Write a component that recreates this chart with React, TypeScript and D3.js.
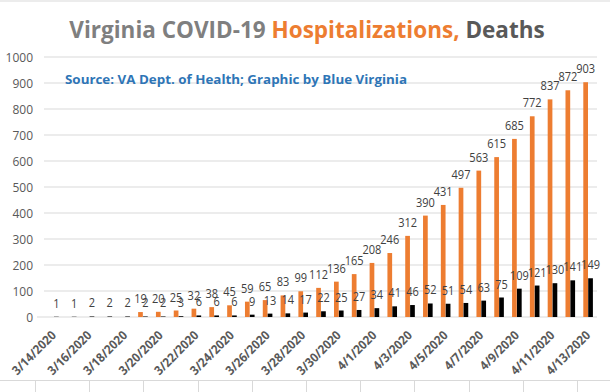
import * as d3 from "d3";

const dates = [
  "3/14/2020", "3/15/2020", "3/16/2020", "3/17/2020", "3/18/2020", "3/19/2020",
  "3/20/2020", "3/21/2020", "3/22/2020", "3/23/2020", "3/24/2020", "3/25/2020",
  "3/26/2020", "3/27/2020", "3/28/2020", "3/29/2020", "3/30/2020", "3/31/2020",
  "4/1/2020", "4/2/2020", "4/3/2020", "4/4/2020", "4/5/2020", "4/6/2020",
  "4/7/2020", "4/8/2020", "4/9/2020", "4/10/2020", "4/11/2020", "4/12/2020",
  "4/13/2020",
];
// null = not reported yet
const hospitalizations: (number | null)[] = [
  null, null, null, null, null, 19, 20, 25, 32, 38, 45, 59, 65, 83, 99, 112,
  136, 165, 208, 246, 312, 390, 431, 497, 563, 615, 685, 772, 837, 872, 903,
];
const deaths = [
  1, 1, 2, 2, 2, 2, 2, 3, 6, 6, 6, 9, 13, 14, 17, 22, 25, 27, 34, 41, 46, 52,
  51, 54, 63, 75, 109, 121, 130, 141, 149,
];
const yTicks = [0, 100, 200, 300, 400, 500, 600, 700, 800, 900, 1000];

const W = 610;
const H = 392;
const ORANGE = "#ED7D31";
const FONT = "'Open Sans', 'Liberation Sans', sans-serif";

// approximate width of a date label in the original (narrow) font
const dateLen = (s: string) =>
  s.split("").reduce((a, c) => a + (c === "/" ? 5 : 6.6), 0);

const App = () => {
  const x = d3.scaleBand<string>().domain(dates).range([45, 597]).padding(0);
  const half = 4.8;
  const x1 = d3
    .scaleBand<string>()
    .domain(["h", "d"])
    .range([x.bandwidth() / 2 - half, x.bandwidth() / 2 + half])
    .paddingInner(0.04);
  const y = d3.scaleLinear().domain([0, 1000]).range([317, 57]);

  const series = [
    { key: "h", values: hospitalizations, fill: ORANGE },
    { key: "d", values: deaths as (number | null)[], fill: "#000000" },
  ];

  return (
    <svg
      width={W}
      height={H}
      viewBox={`0 0 ${W} ${H}`}
      style={{ position: "absolute", left: 0, top: 0, background: "#fff" }}
      fontFamily={FONT}
    >
      {/* sheet border lines */}
      <line x1={0} x2={W} y1={1} y2={1} stroke="#d9d9d9" />
      <line x1={0} x2={W} y1={380.5} y2={380.5} stroke="#d9d9d9" />
      {d3.range(35, W, 54.2).map((cx) => (
        <line key={cx} x1={Math.round(cx) + 0.5} x2={Math.round(cx) + 0.5} y1={380} y2={H} stroke="#d9d9d9" />
      ))}

      {/* title */}
      <text x={W / 2 + 2} y={38} textAnchor="middle" fontSize={22.5} fontWeight="bold">
        <tspan fill="#7f7f7f">Virginia COVID-19 </tspan>
        <tspan fill={ORANGE}>Hospitalizations, </tspan>
        <tspan fill="#595959">Deaths</tspan>
      </text>

      {/* gridlines + y labels */}
      {yTicks.map((t) => (
        <g key={t}>
          <line x1={t === 0 ? 37 : 44} x2={597} y1={y(t)} y2={y(t)} stroke="#d9d9d9" />
          <text x={33} y={y(t) + 4.5} textAnchor="end" fontSize={12} fill="#595959">
            {t}
          </text>
        </g>
      ))}

      <text
        x={65}
        y={84}
        fontSize={13}
        fontWeight="bold"
        fill="#2E75B6"
        textLength={342}
        lengthAdjust="spacingAndGlyphs"
      >
        Source: VA Dept. of Health; Graphic by Blue Virginia
      </text>

      {/* bars */}
      {series.map((s) =>
        dates.map((d, i) => {
          const v = s.values[i];
          if (v == null) return null;
          const bx = (x(d) ?? 0) + (x1(s.key) ?? 0);
          return (
            <rect
              key={s.key + d}
              x={bx}
              y={y(v)}
              width={x1.bandwidth()}
              height={y(0) - y(v)}
              fill={s.fill}
            />
          );
        })
      )}

      {/* data labels */}
      {series.map((s) =>
        dates.map((d, i) => {
          const v = s.values[i];
          if (v == null) return null;
          const cx = (x(d) ?? 0) + (x1(s.key) ?? 0) + x1.bandwidth() / 2;
          return (
            <text
              key={"l" + s.key + d}
              x={cx}
              y={y(v) - 9}
              textAnchor="middle"
              fontSize={12}
              fill="#404040"
              textLength={String(v).length * 6.3}
              lengthAdjust="spacingAndGlyphs"
            >
              {v}
            </text>
          );
        })
      )}

      {/* x labels, every other date */}
      {dates
        .filter((_, i) => i % 2 === 0)
        .map((d) => {
          const cx = (x(d) ?? 0) + x.bandwidth() / 2;
          return (
            <text
              key={"x" + d}
              transform={`translate(${cx + 3},${336}) rotate(-45)`}
              textAnchor="end"
              fontSize={12.5}
              fontWeight="bold"
              fill="#595959"
              textLength={dateLen(d)}
              lengthAdjust="spacingAndGlyphs"
            >
              {d}
            </text>
          );
        })}
    </svg>
  );
};

export default App;
